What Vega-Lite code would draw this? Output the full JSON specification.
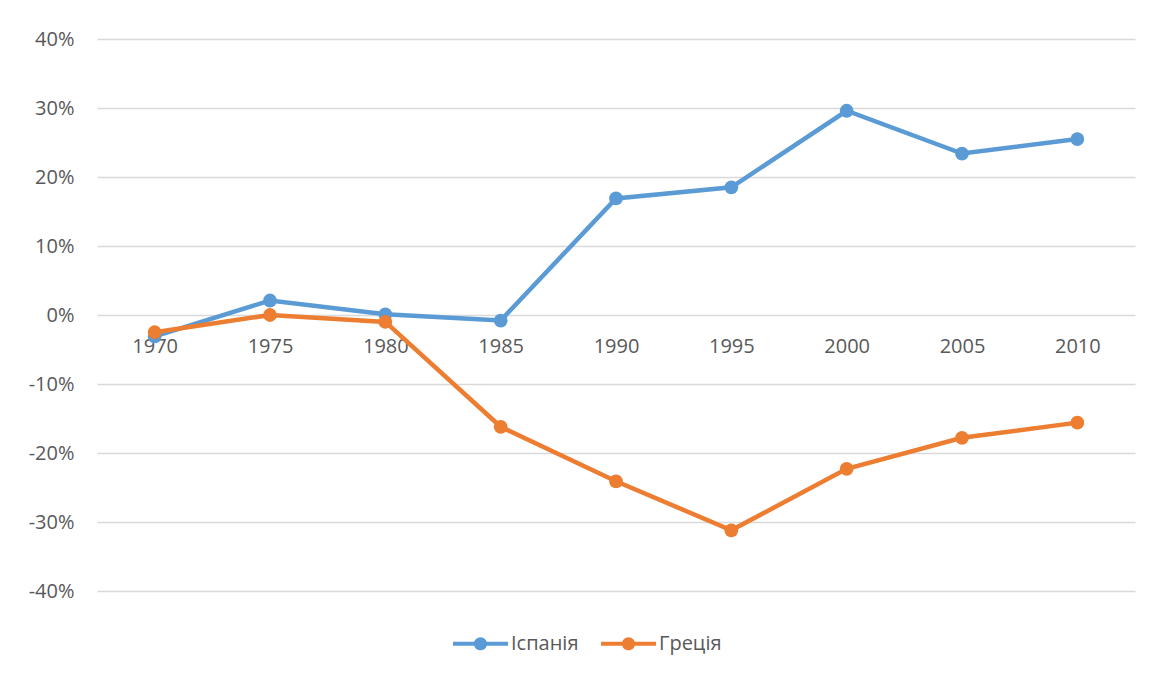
{
  "$schema": "https://vega.github.io/schema/vega-lite/v6.json",
  "width": 1038,
  "height": 552,
  "autosize": {"type": "none"},
  "padding": {"left": 97, "top": 39, "right": 32, "bottom": 84},
  "background": "white",
  "config": {
    "view": {"stroke": null},
    "font": "Open Sans"
  },
  "data": {
    "values": [
      {"year": "1970", "country": "Іспанія", "value": -0.031},
      {"year": "1975", "country": "Іспанія", "value": 0.021},
      {"year": "1980", "country": "Іспанія", "value": 0.001},
      {"year": "1985", "country": "Іспанія", "value": -0.008},
      {"year": "1990", "country": "Іспанія", "value": 0.169},
      {"year": "1995", "country": "Іспанія", "value": 0.185},
      {"year": "2000", "country": "Іспанія", "value": 0.296},
      {"year": "2005", "country": "Іспанія", "value": 0.234},
      {"year": "2010", "country": "Іспанія", "value": 0.255},
      {"year": "1970", "country": "Греція", "value": -0.025},
      {"year": "1975", "country": "Греція", "value": 0.0},
      {"year": "1980", "country": "Греція", "value": -0.01},
      {"year": "1985", "country": "Греція", "value": -0.162},
      {"year": "1990", "country": "Греція", "value": -0.241},
      {"year": "1995", "country": "Греція", "value": -0.312},
      {"year": "2000", "country": "Греція", "value": -0.223},
      {"year": "2005", "country": "Греція", "value": -0.178},
      {"year": "2010", "country": "Греція", "value": -0.156}
    ]
  },
  "encoding": {
    "x": {
      "field": "year",
      "type": "ordinal",
      "scale": {"type": "point", "padding": 0.5},
      "axis": {
        "title": null,
        "labelAngle": 0,
        "domain": false,
        "ticks": false,
        "grid": false,
        "offset": -276,
        "labelPadding": 21,
        "labelFontSize": 20,
        "labelColor": "#595959",
        "labelFont": "Open Sans"
      }
    },
    "y": {
      "field": "value",
      "type": "quantitative",
      "scale": {"domain": [-0.4, 0.4], "nice": false},
      "axis": {
        "title": null,
        "values": [-0.4, -0.3, -0.2, -0.1, 0, 0.1, 0.2, 0.3, 0.4],
        "labelExpr": "replace(format(datum.value, '.0%'), '\u2212', '-')",
        "domain": false,
        "ticks": false,
        "labelPadding": 23,
        "labelFontSize": 20,
        "labelColor": "#595959",
        "labelFont": "Open Sans",
        "gridColor": "#d9d9d9",
        "gridWidth": 1.3
      }
    },
    "color": {
      "field": "country",
      "type": "nominal",
      "scale": {"domain": ["Іспанія", "Греція"], "range": ["#5B9BD5", "#ED7D31"]},
      "legend": {
        "title": null,
        "orient": "none",
        "legendX": 356,
        "legendY": 577,
        "direction": "horizontal",
        "symbolType": "M-1,-0.075H1V0.075H-1Z M0.24,0 A0.24,0.24 0 1,1 -0.24,0 A0.24,0.24 0 1,1 0.24,0 Z",
        "symbolSize": 3025,
        "symbolStrokeWidth": 0,
        "labelFontSize": 20,
        "labelColor": "#595959",
        "labelFont": "Open Sans",
        "labelOffset": 3,
        "columnPadding": 22
      }
    }
  },
  "layer": [
    {"mark": {"type": "line", "strokeWidth": 4.5}},
    {"mark": {"type": "point", "filled": true, "opacity": 1, "size": 190, "shape": "circle"}}
  ]
}
